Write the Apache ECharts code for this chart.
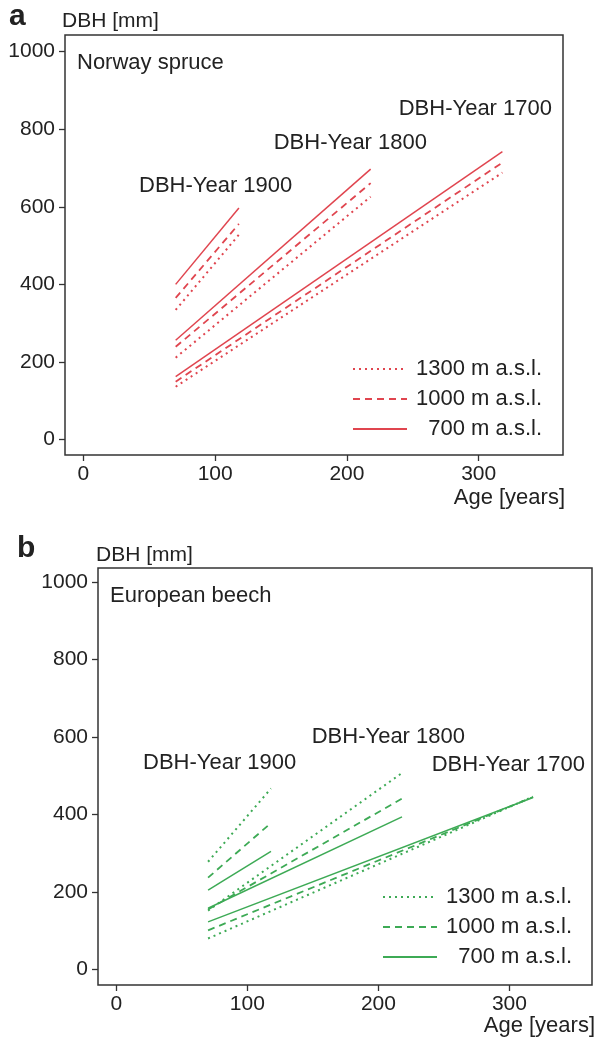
<!DOCTYPE html>
<html>
<head>
<meta charset="utf-8">
<script src="https://cdn.jsdelivr.net/npm/echarts@6/dist/echarts.min.js"></script>
<style>
html,body{margin:0;padding:0;background:#fff;}
#chart{width:596px;height:1040px;}
</style>
</head>
<body>
<div id="chart"></div>
<script>
// ---- data ----
const cohorts = ['DBH-Year 1900', 'DBH-Year 1800', 'DBH-Year 1700'];
const cohortAges = [[70, 118], [70, 218], [70, 318]];   // age at start / end of each curve
const elevations = ['1300 m a.s.l.', '1000 m a.s.l.', '700 m a.s.l.'];
// DBH [mm] at start and end age, per cohort (1900, 1800, 1700)
const spruce1300 = [[334, 528], [211, 626], [136, 688]];
const spruce1000 = [[365, 556], [239, 661], [149, 714]];
const spruce700  = [[400, 597], [256, 697], [162, 742]];
const beech1300  = [[278, 467], [152, 507], [80, 446]];
const beech1000  = [[237, 378], [155, 441], [101, 445]];
const beech700   = [[205, 305], [158, 394], [123, 444]];
const xTicks = [0, 100, 200, 300];
const yTicks = [0, 200, 400, 600, 800, 1000];

const FONT = "'Liberation Sans', Arial, Helvetica, sans-serif";
const RED = '#e0454f';
const GREEN = '#3daa55';
const styles = {
  '1300': {type: [2, 4], width: 2, cap: 'butt'},
  '1000': {type: [7, 5], width: 1.8, cap: 'butt'},
  '700': {type: 'solid', width: 1.5, cap: 'butt'}
};

function makeSeries(prefix, idx, color, sets) {
  const out = [];
  const keys = ['1300', '1000', '700'];
  sets.forEach((set, e) => {
    set.forEach((vals, c) => {
      out.push({
        type: 'line',
        name: prefix + keys[e],
        xAxisIndex: idx,
        yAxisIndex: idx,
        symbol: 'none',
        silent: true,
        color: color,
        lineStyle: {color: color, width: styles[keys[e]].width, type: styles[keys[e]].type, cap: styles[keys[e]].cap},
        data: [[cohortAges[c][0], vals[0]], [cohortAges[c][1], vals[1]]]
      });
    });
  });
  return out;
}

const labelMap = {};
['a', 'b'].forEach(p => { labelMap[p + '1300'] = elevations[0]; labelMap[p + '1000'] = elevations[1]; labelMap[p + '700'] = elevations[2]; });

function xAxis(idx, max) {
  return {
    type: 'value', gridIndex: idx, min: -14, max: max,
    splitLine: {show: false},
    axisLine: {show: false, onZero: false},
    axisTick: {show: true, length: 6, customValues: xTicks, lineStyle: {color: '#333', width: 1.3}},
    axisLabel: {customValues: xTicks, formatter: v => String(v), margin: 9, color: '#222', fontSize: 21, fontFamily: FONT}
  };
}
function yAxis(idx, max) {
  return {
    type: 'value', gridIndex: idx, min: -40, max: max,
    splitLine: {show: false},
    axisLine: {show: false, onZero: false},
    axisTick: {show: true, length: 6, customValues: yTicks, lineStyle: {color: '#333', width: 1.3}},
    axisLabel: {customValues: yTicks, formatter: v => String(v), margin: 10, color: '#222', fontSize: 21, fontFamily: FONT}
  };
}
function txt(text, left, top, size, weight, align) {
  const o = {text: text, top: top, padding: 0, textStyle: {fontSize: size, fontWeight: weight || 'normal', color: '#222', fontFamily: FONT}};
  if (align === 'right') o.right = left; else o.left = left;
  return o;
}
function legend(prefix, left, top) {
  return {
    orient: 'vertical', left: left, top: top, padding: 0,
    itemWidth: 54, itemHeight: 14, itemGap: 8,
    selectedMode: false,
    itemStyle: {opacity: 0},
    data: [prefix + '1300', prefix + '1000', prefix + '700'],
    formatter: n => '{t|' + labelMap[n] + '}',
    textStyle: {fontFamily: FONT, fontSize: 22, color: '#222',
      rich: {t: {width: 130, align: 'right', fontSize: 22, fontFamily: FONT, color: '#222'}}}
  };
}

const chart = echarts.init(document.getElementById('chart'), null, {renderer: 'canvas'});
chart.setOption({
  animation: false,
  backgroundColor: '#fff',
  title: [
    txt('a', 9, 2, 30, 'bold'),
    txt('DBH [mm]', 62, 11, 21),
    txt('Norway spruce', 77, 52, 22),
    txt(cohorts[0], 139, 175, 22),
    txt(cohorts[1], 596 - 427, 132, 22, null, 'right'),
    txt(cohorts[2], 596 - 552, 98, 22, null, 'right'),
    txt('Age [years]', 596 - 565, 487, 22, null, 'right'),
    txt('b', 17, 534, 30, 'bold'),
    txt('DBH [mm]', 96, 545, 21),
    txt('European beech', 110, 585, 22),
    txt(cohorts[0], 143, 752, 22),
    txt(cohorts[1], 596 - 465, 726, 22, null, 'right'),
    txt(cohorts[2], 596 - 585, 754, 22, null, 'right'),
    txt('Age [years]', 596 - 595, 1015, 22, null, 'right')
  ],
  legend: [legend('a', 352, 358), legend('b', 382, 886)],
  grid: [
    {left: 65, top: 35, width: 498, height: 420, show: true, borderColor: '#333', borderWidth: 1.5, backgroundColor: 'transparent'},
    {left: 98, top: 568, width: 494, height: 417, show: true, borderColor: '#333', borderWidth: 1.5, backgroundColor: 'transparent'}
  ],
  xAxis: [xAxis(0, 364), xAxis(1, 363)],
  yAxis: [yAxis(0, 1043), yAxis(1, 1036)],
  series: [].concat(
    makeSeries('a', 0, RED, [spruce1300, spruce1000, spruce700]),
    makeSeries('b', 1, GREEN, [beech1300, beech1000, beech700])
  )
});
</script>
</body>
</html>
